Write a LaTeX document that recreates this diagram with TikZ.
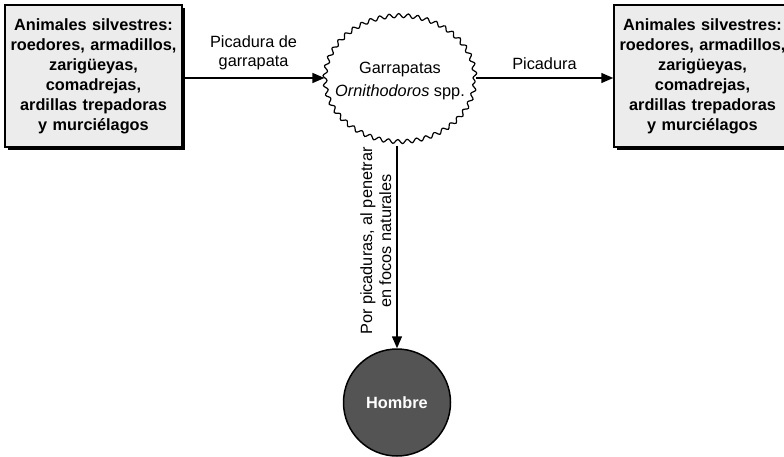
\documentclass[tikz,border=0pt]{standalone}
\usepackage{fontspec}
\setmainfont{Liberation Sans}
\usetikzlibrary{arrows.meta,shapes.geometric,shadows,decorations.pathmorphing}

\begin{document}
\begin{tikzpicture}[x=1pt, y=-1pt,
    font=\fontsize{16.3}{19}\selectfont,
    animbox/.style={draw, line width=1.5pt, fill=gray!15, align=center,
      text width=177pt, minimum width=177pt, minimum height=142pt, inner sep=0pt,
      font=\fontsize{16.3}{20}\selectfont\bfseries,
      drop shadow={shadow xshift=3pt, shadow yshift=-3pt, fill=black, opacity=1}},
    link/.style={line width=1.5pt, -{Triangle[length=12pt, width=10pt]}},
  ]
    \useasboundingbox (0,0) rectangle (784,457);
    % wild hosts on both sides
    \node[animbox] (hostL) at (93.5,76) {Animales silvestres:\\ roedores, armadillos,\\ zarigüeyas,\\ comadrejas,\\ ardillas trepadoras\\ y murciélagos};
    \node[animbox] (hostR) at (702.5,76) {Animales silvestres:\\ roedores, armadillos,\\ zarigüeyas,\\ comadrejas,\\ ardillas trepadoras\\ y murciélagos};
    % the tick
    \node[ellipse, draw, line width=1.2pt, fill=white, align=center,
      minimum width=150pt, minimum height=126pt, inner xsep=-20pt, inner ysep=-12pt,
      decorate, decoration={snake, amplitude=2pt, segment length=9.5pt}]
      (tick) at (400,81) {Garrapatas\\[4pt] \textit{Ornithodoros} spp.};
    % man
    \node[circle, draw, line width=1.5pt, fill=black!67, text=white,
      minimum size=107pt, inner sep=0pt, font=\fontsize{16.3}{19}\selectfont\bfseries]
      (man) at (397,402.5) {Hombre};

    \draw[link] (hostL.east |- 0,78) -- node[above=4pt, align=center] {Picadura de\\ garrapata} (tick.west |- 0,78);
    \draw[link] (tick.east |- 0,78) -- node[above=4pt] {Picadura} (hostR.west |- 0,78);
    \draw[link] (397,146) -- node[anchor=south, rotate=90, align=center, inner sep=5pt, pos=0.47] {Por picaduras, al penetrar\\ en focos naturales} (man.north);
\end{tikzpicture}
\end{document}
